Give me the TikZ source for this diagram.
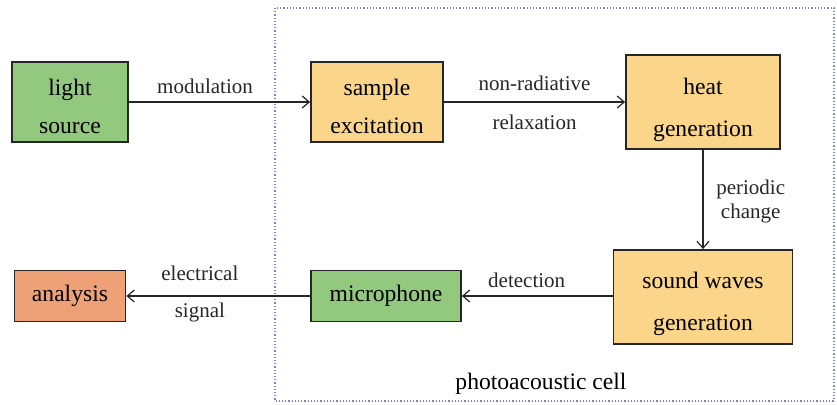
\documentclass[tikz,border=0pt]{standalone}
\usepackage{fontspec}
\setmainfont{Liberation Serif}
\usetikzlibrary{arrows.meta,positioning}
\definecolor{boxgreen}{RGB}{147,200,127}
\definecolor{boxyellow}{RGB}{250,213,138}
\definecolor{boxorange}{RGB}{238,160,118}
\definecolor{cellblue}{RGB}{120,132,200}
\newcommand{\dropstrut}[1]{\rule{0pt}{#1}}

\tikzset{
  block/.style={draw=black!85, line width=0.9pt, align=center, inner sep=0pt,
    font=\fontsize{11.8}{19}\selectfont},
  bigblock/.style={block, font=\fontsize{11.8}{21}\selectfont},
  flow/.style={->, line width=0.6pt, black!85},
  lbl/.style={font=\fontsize{10.5}{12}\selectfont, align=center}
}

\begin{document}
\begin{tikzpicture}[x=0.5pt, y=-0.5pt, >={Straight Barb[length=3.5pt,width=6pt]}]
  \useasboundingbox (0,0) rectangle (837,404);
  % --- photoacoustic cell frame ---
  \draw[cellblue, densely dotted, line width=0.6pt] (275,8) rectangle (834,401);
  \node[lbl, font=\fontsize{11.8}{14}\selectfont] (cell) at (541,384) {photoacoustic cell};
  % --- blocks ---
  \node[block, fill=boxgreen, minimum width=58pt, minimum height=40pt] (light) at (70,102) {\dropstrut{12.5pt}light\\source};
  \node[block, fill=boxyellow, minimum width=66pt, minimum height=40pt] (sample) at (377,102) {\dropstrut{12.5pt}sample\\excitation};
  \node[bigblock, fill=boxyellow, minimum width=77pt, minimum height=47pt] (heat) at (703,102) {\dropstrut{16.5pt}heat\\generation};
  \node[bigblock, fill=boxyellow, minimum width=89.5pt, minimum height=47pt] (sound) at (703,297) {\dropstrut{15.5pt}sound waves\\generation};
  \node[block, fill=boxgreen, minimum width=75pt, minimum height=25.5pt] (mic) at (386,296) {microphone};
  \node[block, fill=boxorange, minimum width=55.5pt, minimum height=25.5pt] (analysis) at (70,296) {analysis};
  % --- connectors ---
  \draw[flow] (light) -- node[lbl, pos=0.42, yshift=8pt] {modulation} (sample);
  \draw[flow] (sample) -- node[lbl, yshift=9.5pt] {non-radiative}
    node[lbl, yshift=-10pt] {relaxation} (heat);
  \draw[flow] (heat) -- node[lbl, right=3pt, yshift=-1pt] {periodic\\change} (sound);
  \draw[flow] (sound.west |- mic) -- node[lbl, pos=0.57, yshift=8pt] {detection} (mic);
  \draw[flow] (mic) -- node[lbl, pos=0.6, yshift=11.5pt] {electrical}
    node[lbl, pos=0.6, yshift=-8pt] {signal} (analysis);
\end{tikzpicture}
\end{document}
